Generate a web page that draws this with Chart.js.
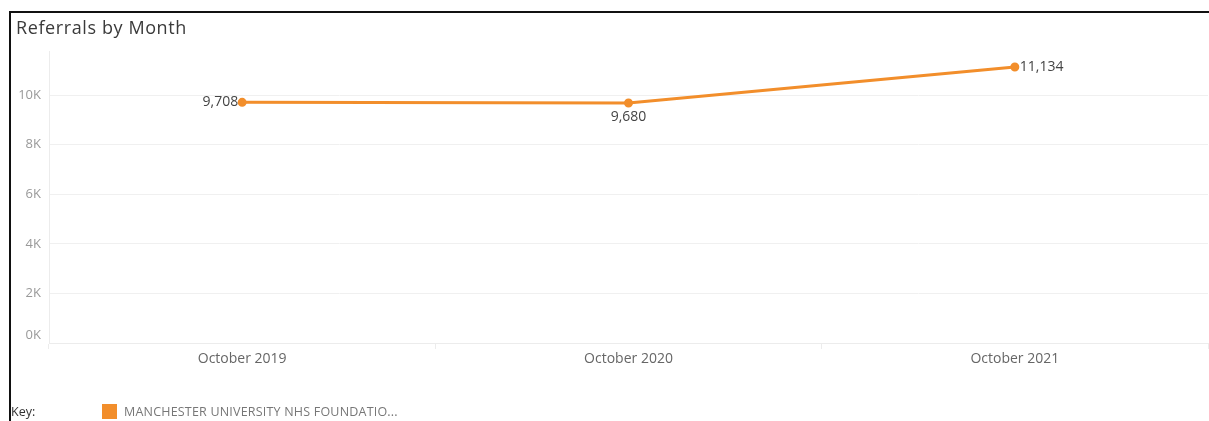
<!DOCTYPE html>
<html>
<head>
<meta charset="utf-8">
<script src="https://cdn.jsdelivr.net/npm/chart.js@4"></script>
<style>
    html, body { margin: 0; padding: 0; background: #fff; }
    #wrap { position: relative; width: 1209px; height: 421px; overflow: hidden; }
    #frame {
        position: absolute; left: 9px; top: 11px; right: -5px; bottom: -5px;
        border-top: 2px solid #111; border-left: 2px solid #111;
    }
    #title {
        position: absolute; left: 16px; top: 15px;
        font: 18px "Open Sans", sans-serif; letter-spacing: 0.6px; color: #3a3a3a;
    }
    #key {
        position: absolute; left: 11px; top: 403px;
        font: 12.5px "Open Sans", sans-serif; color: #333;
    }
    #legendItem {
        position: absolute; left: 102px; top: 403px;
        font: 12.5px "Open Sans", sans-serif; letter-spacing: 0.2px; color: #777; white-space: nowrap;
    }
    #legendItem span {
        display: inline-block; width: 15px; height: 15px; background: #f28e2b;
        vertical-align: -3px; margin-right: 7px;
    }
    #chart { position: absolute; left: 0; top: 0; }
</style>
</head>
<body>
<div id="wrap">
    <canvas id="chart" width="1209" height="421"></canvas>
    <div id="frame"></div>
    <div id="title">Referrals by Month</div>
    <div id="key">Key:</div>
    <div id="legendItem"><span></span>MANCHESTER UNIVERSITY NHS FOUNDATIO...</div>
</div>
<script>
const months = ['October 2019', 'October 2020', 'October 2021'];
const referrals = [9708, 9680, 11134];
const yTicks = [0, 2000, 4000, 6000, 8000, 10000];
// where each value label sits relative to its point
const labelSides = ['left', 'below', 'right'];

const orange = '#f28e2b';

// y tick labels and point value labels
const labelPlugin = {
    id: 'labels',
    afterDatasetsDraw(chart) {
        const ctx = chart.ctx;
        const y = chart.scales.y;
        const area = chart.chartArea;
        ctx.save();
        ctx.font = '13px "Open Sans", sans-serif';
        ctx.fillStyle = '#999';
        ctx.textAlign = 'right';
        ctx.textBaseline = 'middle';
        yTicks.forEach(v => {
            let py = y.getPixelForValue(v);
            py = Math.min(py, area.bottom - 8);
            ctx.fillText((v / 1000) + 'K', 41, py);
        });

        ctx.font = '14px "Open Sans", sans-serif';
        ctx.fillStyle = '#444';
        const meta = chart.getDatasetMeta(0);
        meta.data.forEach((pt, i) => {
            const text = referrals[i].toLocaleString('en-US');
            const side = labelSides[i];
            if (side === 'left') {
                ctx.textAlign = 'right';
                ctx.fillText(text, pt.x - 4, pt.y);
            } else if (side === 'right') {
                ctx.textAlign = 'left';
                ctx.fillText(text, pt.x + 5, pt.y);
            } else {
                ctx.textAlign = 'center';
                ctx.fillText(text, pt.x, pt.y + 14);
            }
        });
        ctx.restore();
    }
};

new Chart(document.getElementById('chart'), {
    type: 'line',
    data: {
        labels: months,
        datasets: [{
            data: referrals,
            borderColor: orange,
            backgroundColor: orange,
            borderWidth: 3,
            pointRadius: 3,
            pointHoverRadius: 3,
            tension: 0,
        }],
    },
    options: {
        responsive: false,
        animation: false,
        layout: { autoPadding: false, padding: { top: 51, right: 1, left: 0, bottom: 0 } },
        plugins: {
            legend: { display: false },
            tooltip: { enabled: false },
        },
        scales: {
            x: {
                offset: true,
                grid: {
                    offset: true,
                    drawOnChartArea: false,
                    tickLength: 6,
                    color: '#ececec',
                },
                border: { color: '#ececec' },
                ticks: {
                    color: '#666',
                    font: { family: 'Open Sans', size: 14 },
                    padding: 2,
                    maxRotation: 0,
                },
                afterFit(scale) { scale.height = 78; },
            },
            y: {
                min: 0,
                max: 11780,
                afterBuildTicks(scale) {
                    scale.ticks = yTicks.map(v => ({ value: v }));
                },
                grid: { color: '#f0f0f0', drawTicks: false },
                border: { color: '#ececec' },
                ticks: { display: false },
                afterFit(scale) { scale.width = 49; },
            },
        },
    },
    plugins: [labelPlugin],
});
</script>
</body>
</html>
